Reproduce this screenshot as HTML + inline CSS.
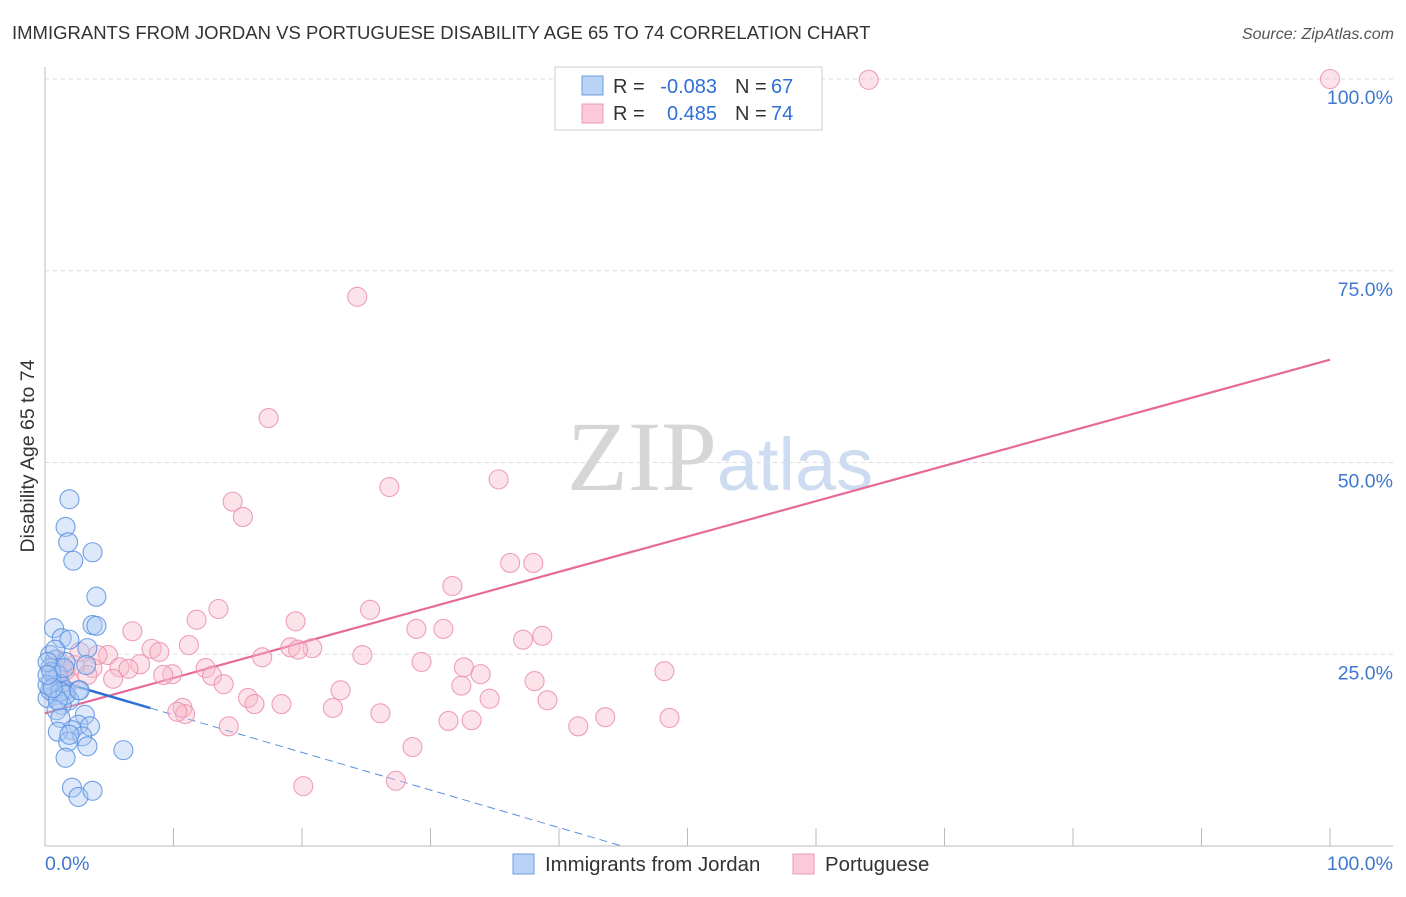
<!DOCTYPE html>
<html><head><meta charset="utf-8"><style>
body{margin:0;background:#fff;font-family:"Liberation Sans",sans-serif;}
svg text{font-family:"Liberation Sans",sans-serif;}
</style></head><body>
<svg id="chart" width="1406" height="892" xmlns="http://www.w3.org/2000/svg">
<text x="12" y="39" font-size="18.5" fill="#333">IMMIGRANTS FROM JORDAN VS PORTUGUESE DISABILITY AGE 65 TO 74 CORRELATION CHART</text>
<text x="1394" y="39" font-size="16" fill="#555" font-style="italic" text-anchor="end">Source: ZipAtlas.com</text>
<text x="720" y="490" font-size="100" text-anchor="middle"><tspan font-family="Liberation Serif" fill="#d6d6d6">ZIP</tspan><tspan fill="#cddcf0" font-size="74">atlas</tspan></text>
<text transform="translate(34,456) rotate(-90)" font-size="19.5" fill="#333" text-anchor="middle">Disability Age 65 to 74</text>
<g id="grid"></g><g id="axes"></g><g id="trends"></g><g id="pts"></g>
<g>
<rect x="555" y="67" width="267" height="63" fill="#fff" stroke="#ccc"/>
<rect x="582" y="76" width="21" height="19" fill="#b8d3f5" stroke="#6c9be0"/>
<rect x="582" y="104" width="21" height="19" fill="#fbc9d8" stroke="#ee9ab4"/>
<text x="613" y="93" font-size="20" fill="#333">R =</text>
<text x="717" y="93" font-size="20" fill="#2f6fd6" text-anchor="end">-0.083</text>
<text x="735" y="93" font-size="20" fill="#333">N =</text>
<text x="771" y="93" font-size="20" fill="#2f6fd6">67</text>
<text x="613" y="120" font-size="20" fill="#333">R =</text>
<text x="717" y="120" font-size="20" fill="#2f6fd6" text-anchor="end">0.485</text>
<text x="735" y="120" font-size="20" fill="#333">N =</text>
<text x="771" y="120" font-size="20" fill="#2f6fd6">74</text>
</g>
<g>
<rect x="513" y="854" width="21" height="20" fill="#b8d3f5" stroke="#6c9be0"/>
<text x="545" y="871" font-size="20.4" fill="#333">Immigrants from Jordan</text>
<rect x="793" y="854" width="21" height="20" fill="#fbc9d8" stroke="#ee9ab4"/>
<text x="825" y="871" font-size="20.4" fill="#333">Portuguese</text>
</g>
</svg>
<script>
const blueX=[1.9,1.6,1.8,3.7,2.2,4.0,3.7,4.0,0.7,1.3,1.9,3.3,0.4,0.8,1.6,0.4,1.0,0.5,1.2,1.6,2.6,0.8,1.9,0.2,1.3,0.9,3.1,1.2,2.6,3.5,2.1,1.0,2.9,3.3,1.8,1.6,6.1,2.1,2.6,3.7,0.4,0.5,0.2,1.2,1.6,0.8,1.5,1.0,2.7,1.9,3.2,0.2,0.6,0.2];
const blueY=[45.2,41.6,39.6,38.3,37.2,32.5,28.8,28.7,28.4,27.1,26.9,25.8,24.9,24.3,24.0,23.2,22.3,21.6,21.1,20.3,20.3,19.7,19.0,19.3,18.4,17.7,17.1,16.7,15.8,15.6,15.1,14.9,14.3,13.0,13.6,11.5,12.5,7.6,6.4,7.2,20.3,22.7,21.0,20.1,19.7,25.6,23.2,19.0,20.3,14.5,23.6,24.0,20.6,22.3];
const pinkX=[64.1,100,24.3,17.4,26.8,35.3,14.6,15.4,31.7,36.2,38.0,13.5,25.3,19.5,11.8,6.8,28.9,31.0,38.7,37.2,19.1,20.8,8.3,8.9,11.2,19.7,24.7,4.9,4.1,16.9,29.3,7.4,5.8,6.5,12.5,32.6,33.9,9.9,9.2,13.0,3.7,2.3,1.3,0.8,48.2,5.3,13.9,32.4,38.1,23.0,15.8,16.3,18.4,22.4,34.6,39.1,10.7,10.9,10.3,26.1,43.6,31.4,33.2,48.6,41.5,14.3,28.6,20.1,27.3,2.7,1.9,1.0,1.6,3.3];
const pinkY=[99.9,100,71.6,55.8,46.8,47.8,44.9,42.9,33.9,36.9,36.9,30.9,30.8,29.3,29.5,28.0,28.3,28.3,27.4,26.9,25.9,25.8,25.7,25.3,26.2,25.6,24.9,24.9,24.9,24.6,24.0,23.7,23.3,23.1,23.2,23.3,22.4,22.4,22.3,22.2,23.2,23.6,23.2,22.7,22.8,21.8,21.1,20.9,21.5,20.3,19.3,18.5,18.5,18.0,19.2,19.0,18.0,17.2,17.5,17.3,16.8,16.3,16.4,16.7,15.6,15.6,12.9,7.8,8.5,25.3,21.4,24.3,22.9,22.3];
const pinkTrend=[17.3,63.4];
const blueTrend=[22.0,-0.49];
const blueSolidEnd=8.2, blueDashEnd=44.9;
const yTicks=[25,50,75,100];
const xTicks=[0,10,20,30,40,50,60,70,80,90,100];

const NS='http://www.w3.org/2000/svg';
const sx=v=>45+v*12.85, sy=v=>846-v*7.67;
function mk(tag,attrs,parent){const e=document.createElementNS(NS,tag);for(const k in attrs)e.setAttribute(k,attrs[k]);document.getElementById(parent).appendChild(e);return e;}
yTicks.forEach(t=>{
 const l=mk('line',{x1:45,x2:1393,y1:sy(t),y2:sy(t),stroke:'#ddd','stroke-dasharray':'4,4'},'grid');
 
 
 const tx=mk('text',{x:1393,y:sy(t)+25,'font-size':19.5,fill:'#3f78d0','text-anchor':'end'},'grid');
 tx.textContent=t.toFixed(1)+'%';
 
 
});
let a=mk('line',{x1:45,x2:45,y1:67,y2:846,stroke:'#bbb'},'axes');


a=mk('line',{x1:45,x2:1393,y1:846,y2:846,stroke:'#bbb'},'axes');


xTicks.forEach(t=>{const l=mk('line',{x1:sx(t),x2:sx(t),y1:828,y2:846,stroke:'#bbb'},'axes');
 
 });
[[0,'0.0%','start',45],[100,'100.0%','end',1393]].forEach(d=>{const tx=mk('text',{x:d[3],y:870,'font-size':19.5,fill:'#3f78d0','text-anchor':d[2]},'axes');tx.textContent=d[1];
 
 });
function drawPts(X,Y,fill,stroke,name){X.forEach((x,i)=>{const c=mk('circle',{cx:sx(x),cy:sy(Y[i]),r:9.5,fill:fill,'fill-opacity':0.4,stroke:stroke,'stroke-width':1.1,'stroke-opacity':0.85},'pts');
 
 });}
drawPts(pinkX,pinkY,'#f7b8cb','#ec8fae','portuguese-point');
drawPts(blueX,blueY,'#a9c9f2','#5a90e0','jordan-point');
let t=mk('line',{x1:sx(0),y1:sy(pinkTrend[0]),x2:sx(100),y2:sy(pinkTrend[1]),stroke:'#e7699a','stroke-width':2.2},'trends');


const by=x=>blueTrend[0]+blueTrend[1]*x;
t=mk('line',{x1:sx(0),y1:sy(by(0)),x2:sx(blueSolidEnd),y2:sy(by(blueSolidEnd)),stroke:'#2d6fd6','stroke-width':2.5},'trends');


t=mk('line',{x1:sx(blueSolidEnd),y1:sy(by(blueSolidEnd)),x2:sx(blueDashEnd),y2:sy(by(blueDashEnd)),stroke:'#5a8fe0','stroke-width':1,'stroke-dasharray':'8,5'},'trends');


</script>
</body></html>
